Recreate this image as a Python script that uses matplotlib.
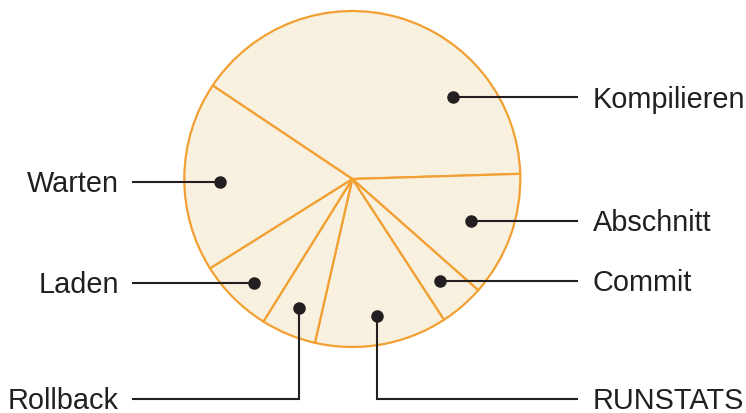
import matplotlib.pyplot as plt
import numpy as np

# Slice shares (percent)
labels = ["Kompilieren", "Abschnitt", "Commit", "RUNSTATS", "Rollback", "Laden", "Warten"]
values = [40.1, 12.0, 4.3, 12.75, 5.3, 7.2, 18.3]

W, H = 746, 413
center = (352.3, H - 179)
radius = 168
start = 146.2

fill = "#f8f1df"
edge = "#f2a033"
ink = "#231f20"

fig = plt.figure(figsize=(W / 100, H / 100), dpi=100)
ax = fig.add_axes([0, 0, 1, 1])

wedges, _ = ax.pie(values, startangle=start, counterclock=False, center=center,
                   radius=radius, colors=[fill] * len(values),
                   wedgeprops=dict(edgecolor=edge, linewidth=1.6))
ax.set_xlim(0, W)
ax.set_ylim(0, H)
ax.set_aspect("equal")
ax.axis("off")

# leader layout: side, anchor angle override, radial fraction, elbow
layout = {
    "Kompilieren": ("right", 39.2, 0.77, False),
    "Abschnitt": ("right", -19.5, 0.75, False),
    "Commit": ("right", None, 0.80, False),
    "RUNSTATS": ("right", None, 0.83, True),
    "Rollback": ("left", None, 0.83, True),
    "Laden": ("left", -133.5, 0.85, False),
    "Warten": ("left", 181.2, 0.79, False),
}
right_x, left_x = 577, 133
bottom_y = H - 399
fs = 20.8
cap = 0.716 * fs * 100 / 72  # cap height in pixels

for w, lab in zip(wedges, labels):
    side, ang, frac, elbow = layout[lab]
    if ang is None:
        ang = (w.theta1 + w.theta2) / 2
    px = center[0] + frac * radius * np.cos(np.radians(ang))
    py = center[1] + frac * radius * np.sin(np.radians(ang))
    end_x = right_x if side == "right" else left_x
    if elbow:
        xs, ys = [px, px, end_x], [py, bottom_y, bottom_y]
        ty = bottom_y
    else:
        xs, ys = [px, end_x], [py, py]
        ty = py
    ax.plot(xs, ys, color=ink, lw=1.5, solid_joinstyle="miter")
    ax.plot(px, py, "o", color=ink, ms=8)
    if side == "right":
        ax.text(end_x + 16, ty - cap / 2, lab, ha="left", va="baseline", fontsize=fs,
                family="Liberation Sans", color=ink)
    else:
        ax.text(end_x - 14, ty - cap / 2, lab, ha="right", va="baseline", fontsize=fs,
                family="Liberation Sans", color=ink)

fig.savefig("out.png", dpi=100)
